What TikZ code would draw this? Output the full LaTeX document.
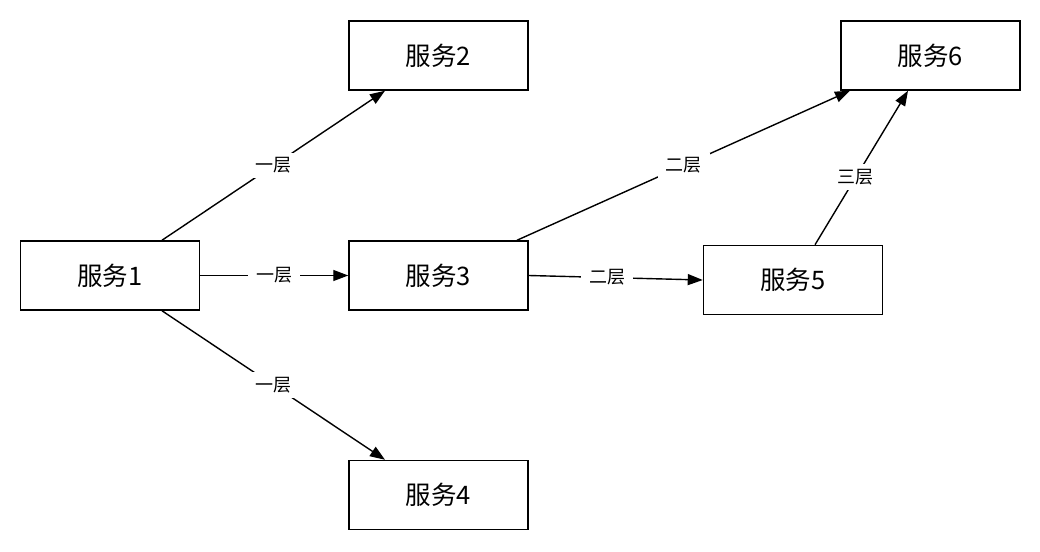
\documentclass[tikz,border=0pt]{standalone}
\usepackage{fontspec}
\setmainfont{Noto Sans CJK SC}
\usetikzlibrary{arrows.meta,calc}
\begin{document}
\begin{tikzpicture}[x=1pt,y=-1pt,
  svc/.style={draw=black,line width=1.5pt,minimum width=179pt,minimum height=69pt,inner sep=0pt,font=\fontsize{25.5}{29}\selectfont},
  conn/.style={line width=1.4pt,-{Triangle[length=15pt,width=11pt]}},
  lbl/.style={fill=white,inner xsep=8pt,inner ysep=5pt,font=\fontsize{18}{21}\selectfont}]
\useasboundingbox[fill=white] (0,0) rectangle (1040,551);
\node[svc] (s1) at (110,275.5) {服务1};
\node[svc] (s2) at (438.5,55.5) {服务2};
\node[svc] (s3) at (438.5,275.5) {服务3};
\node[svc] (s4) at (438.5,495) {服务4};
\node[svc] (s5) at (793,280) {服务5};
\node[svc] (s6) at (930.5,55.5) {服务6};
\draw[conn] ([xshift=52pt]s1.north) -- node[lbl]{一层} ([xshift=-53.5pt]s2.south);
\draw[conn] (s1.east) -- node[lbl]{一层} (s3.west);
\draw[conn] ([xshift=52pt]s1.south) -- node[lbl]{一层} ([xshift=-53.5pt]s4.north);
\draw[conn] ([xshift=78.5pt]s3.north) -- node[lbl]{二层} ([xshift=-80.5pt]s6.south);
\draw[conn] (s3.east) -- node[lbl,pos=0.45]{二层} (s5.west);
\draw[conn] ([xshift=22pt]s5.north) -- node[lbl,pos=0.44]{三层} ([xshift=-22.5pt]s6.south);
\end{tikzpicture}
\end{document}
